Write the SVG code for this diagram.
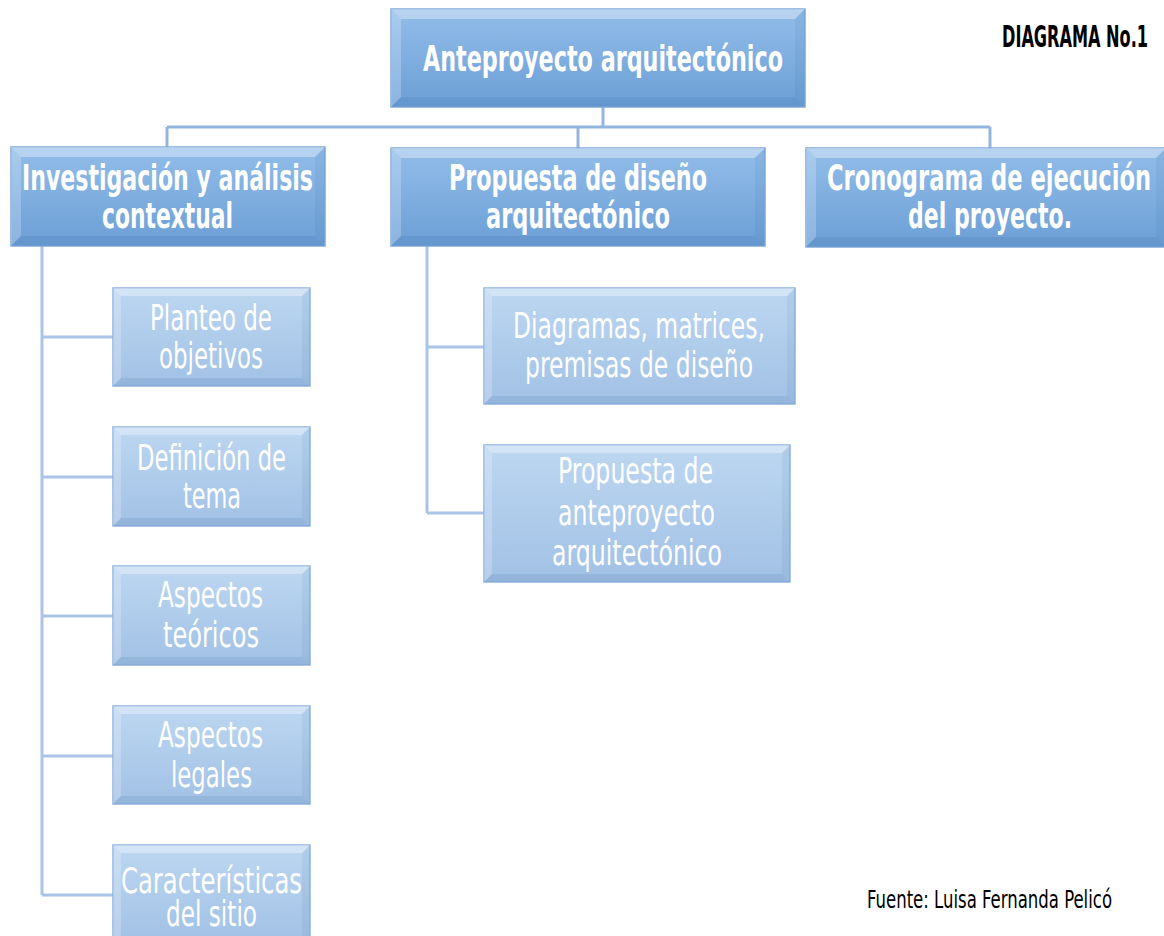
<svg xmlns="http://www.w3.org/2000/svg" width="1164" height="936" viewBox="0 0 1164 936">
<defs>
<linearGradient id="gMain" x1="0" y1="0" x2="0" y2="1">
<stop offset="0" stop-color="#92bde9"/>
<stop offset="1" stop-color="#6c9fd6"/>
</linearGradient>
<linearGradient id="gSub" x1="0" y1="0" x2="0" y2="1">
<stop offset="0" stop-color="#bdd7f1"/>
<stop offset="1" stop-color="#a1c1e5"/>
</linearGradient>
<style>
.main{fill:url(#gMain);stroke:#7fa9da;stroke-width:1.5}
.sub{fill:url(#gSub);stroke:#8fb3de;stroke-width:1.5}
.bt{fill:#ffffff;fill-opacity:0.35}
.bl{fill:#ffffff;fill-opacity:0.22}
.br{fill:#1f4e8a;fill-opacity:0.07}
.bb{fill:#1f4e8a;fill-opacity:0.1}
.conn{fill:none;stroke:#93b6e0;stroke-width:3}
.conn2{fill:none;stroke:#a9c4e6;stroke-width:3}
.h{fill:#ffffff;font-family:"DejaVu Sans Condensed","DejaVu Sans",sans-serif;font-weight:bold;font-size:36px}
.s{fill:#ffffff;font-family:"DejaVu Sans Condensed","DejaVu Sans",sans-serif;font-size:36px}
.lbl{fill:#000000;font-family:"DejaVu Sans Condensed","DejaVu Sans",sans-serif}
</style>
</defs>
<rect width="1164" height="936" fill="#ffffff"/>
<g id="connectors">
<path class="conn" d="M603,107 V127 M167,127 H990 M167,127 V147 M578,127 V148 M990,127 V148"/>
<path class="conn2" d="M42,246 V895 M42,337 H113 M42,477 H113 M42,616 H113 M42,756 H113 M42,895 H113"/>
<path class="conn2" d="M427,246 V513 M427,347 H484 M427,513 H484"/>
</g>
<g id="n-root">
<rect class="main" x="391" y="9" width="414" height="98"/>
<polygon class="bt" points="391,9 805,9 795,19 401,19"/>
<polygon class="bl" points="391,9 401,19 401,97 391,107"/>
<polygon class="br" points="805,9 805,107 795,97 795,19"/>
<polygon class="bb" points="391,107 805,107 795,97 401,97"/>
<text class="h" x="423" y="71" font-size="38" textLength="360" lengthAdjust="spacingAndGlyphs">Anteproyecto arquitectónico</text>
</g>
<g id="n-investigacion">
<rect class="main" x="11" y="147" width="314" height="99"/>
<polygon class="bt" points="11,147 325,147 315,157 21,157"/>
<polygon class="bl" points="11,147 21,157 21,236 11,246"/>
<polygon class="br" points="325,147 325,246 315,236 315,157"/>
<polygon class="bb" points="11,246 325,246 315,236 21,236"/>
<text class="h" x="22" y="190" textLength="291" lengthAdjust="spacingAndGlyphs">Investigación y análisis</text>
<text class="h" x="102" y="228" textLength="131" lengthAdjust="spacingAndGlyphs">contextual</text>
</g>
<g id="n-propuesta">
<rect class="main" x="391" y="148" width="374" height="98"/>
<polygon class="bt" points="391,148 765,148 755,158 401,158"/>
<polygon class="bl" points="391,148 401,158 401,236 391,246"/>
<polygon class="br" points="765,148 765,246 755,236 755,158"/>
<polygon class="bb" points="391,246 765,246 755,236 401,236"/>
<text class="h" x="449" y="190" textLength="258" lengthAdjust="spacingAndGlyphs">Propuesta de diseño</text>
<text class="h" x="486" y="228" textLength="184" lengthAdjust="spacingAndGlyphs">arquitectónico</text>
</g>
<g id="n-cronograma">
<rect class="main" x="806" y="148" width="360" height="99"/>
<polygon class="bt" points="806,148 1166,148 1156,158 816,158"/>
<polygon class="bl" points="806,148 816,158 816,237 806,247"/>
<polygon class="br" points="1166,148 1166,247 1156,237 1156,158"/>
<polygon class="bb" points="806,247 1166,247 1156,237 816,237"/>
<text class="h" x="827" y="190" textLength="324" lengthAdjust="spacingAndGlyphs">Cronograma de ejecución</text>
<text class="h" x="908" y="228" textLength="164" lengthAdjust="spacingAndGlyphs">del proyecto.</text>
</g>
<g id="n-planteo">
<rect class="sub" x="113" y="288" width="197" height="98"/>
<polygon class="bt" points="113,288 310,288 302,296 121,296"/>
<polygon class="bl" points="113,288 121,296 121,378 113,386"/>
<polygon class="br" points="310,288 310,386 302,378 302,296"/>
<polygon class="bb" points="113,386 310,386 302,378 121,378"/>
<text class="s" x="150" y="330" textLength="122" lengthAdjust="spacingAndGlyphs">Planteo de</text>
<text class="s" x="159" y="368" textLength="104" lengthAdjust="spacingAndGlyphs">objetivos</text>
</g>
<g id="n-definicion">
<rect class="sub" x="113" y="427" width="197" height="99"/>
<polygon class="bt" points="113,427 310,427 302,435 121,435"/>
<polygon class="bl" points="113,427 121,435 121,518 113,526"/>
<polygon class="br" points="310,427 310,526 302,518 302,435"/>
<polygon class="bb" points="113,526 310,526 302,518 121,518"/>
<text class="s" x="137" y="470" textLength="149" lengthAdjust="spacingAndGlyphs">Definición de</text>
<text class="s" x="183" y="508" textLength="58" lengthAdjust="spacingAndGlyphs">tema</text>
</g>
<g id="n-teoricos">
<rect class="sub" x="113" y="566" width="197" height="99"/>
<polygon class="bt" points="113,566 310,566 302,574 121,574"/>
<polygon class="bl" points="113,566 121,574 121,657 113,665"/>
<polygon class="br" points="310,566 310,665 302,657 302,574"/>
<polygon class="bb" points="113,665 310,665 302,657 121,657"/>
<text class="s" x="158" y="607" textLength="105" lengthAdjust="spacingAndGlyphs">Aspectos</text>
<text class="s" x="163" y="647" textLength="96" lengthAdjust="spacingAndGlyphs">teóricos</text>
</g>
<g id="n-legales">
<rect class="sub" x="113" y="706" width="197" height="98"/>
<polygon class="bt" points="113,706 310,706 302,714 121,714"/>
<polygon class="bl" points="113,706 121,714 121,796 113,804"/>
<polygon class="br" points="310,706 310,804 302,796 302,714"/>
<polygon class="bb" points="113,804 310,804 302,796 121,796"/>
<text class="s" x="158" y="747" textLength="105" lengthAdjust="spacingAndGlyphs">Aspectos</text>
<text class="s" x="171" y="787" textLength="81" lengthAdjust="spacingAndGlyphs">legales</text>
</g>
<g id="n-sitio">
<rect class="sub" x="113" y="845" width="197" height="98"/>
<polygon class="bt" points="113,845 310,845 302,853 121,853"/>
<polygon class="bl" points="113,845 121,853 121,935 113,943"/>
<polygon class="br" points="310,845 310,943 302,935 302,853"/>
<text class="s" x="121" y="893" textLength="181" lengthAdjust="spacingAndGlyphs">Características</text>
<text class="s" x="166" y="926" textLength="91" lengthAdjust="spacingAndGlyphs">del sitio</text>
</g>
<g id="n-diagramas">
<rect class="sub" x="484" y="288" width="311" height="116"/>
<polygon class="bt" points="484,288 795,288 787,296 492,296"/>
<polygon class="bl" points="484,288 492,296 492,396 484,404"/>
<polygon class="br" points="795,288 795,404 787,396 787,296"/>
<polygon class="bb" points="484,404 795,404 787,396 492,396"/>
<text class="s" x="513" y="338" textLength="252" lengthAdjust="spacingAndGlyphs">Diagramas, matrices,</text>
<text class="s" x="525" y="377" textLength="228" lengthAdjust="spacingAndGlyphs">premisas de diseño</text>
</g>
<g id="n-anteproyecto">
<rect class="sub" x="484" y="445" width="306" height="137"/>
<polygon class="bt" points="484,445 790,445 782,453 492,453"/>
<polygon class="bl" points="484,445 492,453 492,574 484,582"/>
<polygon class="br" points="790,445 790,582 782,574 782,453"/>
<polygon class="bb" points="484,582 790,582 782,574 492,574"/>
<text class="s" x="558" y="483" textLength="155" lengthAdjust="spacingAndGlyphs">Propuesta de</text>
<text class="s" x="558" y="525" textLength="157" lengthAdjust="spacingAndGlyphs">anteproyecto</text>
<text class="s" x="552" y="565" textLength="170" lengthAdjust="spacingAndGlyphs">arquitectónico</text>
</g>
<g id="labels">
<text class="lbl" x="1148" y="47" text-anchor="end" font-size="30" font-weight="bold" textLength="146" lengthAdjust="spacingAndGlyphs">DIAGRAMA No.1</text>
<text class="lbl" x="1112" y="908" text-anchor="end" font-size="25" textLength="245" lengthAdjust="spacingAndGlyphs">Fuente: Luisa Fernanda Pelicó</text>
</g>
</svg>
